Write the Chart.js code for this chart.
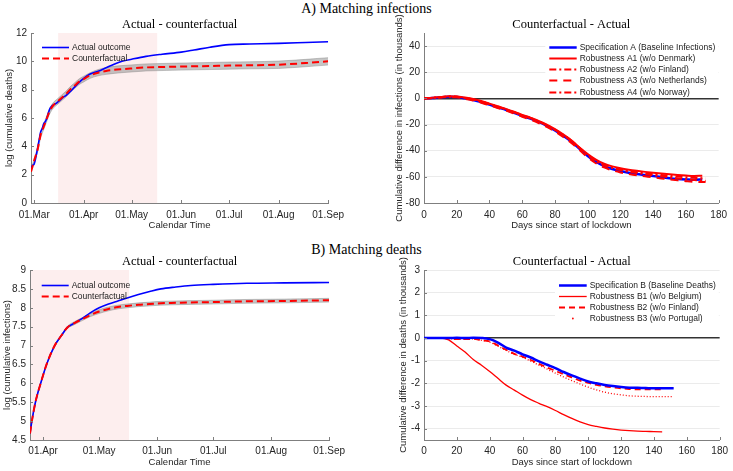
<!DOCTYPE html>
<html>
<head>
<meta charset="utf-8">
<script src="https://cdn.jsdelivr.net/npm/chart.js@4.4.1/dist/chart.umd.min.js"></script>
<style>
  body { margin: 0; background: #fff; width: 733px; height: 471px; position: relative; overflow: hidden; }
  .hd { position: absolute; left: 0; width: 733px; text-align: center; font-family: "Liberation Serif", serif; font-size: 14px; line-height: 16px; color: #000; }
  canvas { position: absolute; }
</style>
</head>
<body>
<div class="hd" style="top:1px">A) Matching infections</div>
<div class="hd" style="top:242px">B) Matching deaths</div>
<canvas id="c1" style="left:0;top:14px" width="350" height="221"></canvas>
<canvas id="c2" style="left:360px;top:14px" width="373" height="221"></canvas>
<canvas id="c3" style="left:0;top:251px" width="350" height="220"></canvas>
<canvas id="c4" style="left:360px;top:251px" width="373" height="220"></canvas>
<script>
// calendar axes: days since 01.Mar
const dateTicks1 = [0, 31, 61, 92, 122, 153, 184];
const dateLabels1 = ['01.Mar', '01.Apr', '01.May', '01.Jun', '01.Jul', '01.Aug', '01.Sep'];
const dateTicks3 = [31, 61, 92, 122, 153, 184];
const dateLabels3 = ['01.Apr', '01.May', '01.Jun', '01.Jul', '01.Aug', '01.Sep'];
const dayTicks = [0, 20, 40, 60, 80, 100, 120, 140, 160, 180];
const yTicks1 = [0, 2, 4, 6, 8, 10, 12];
const yTicks2 = [-80, -60, -40, -20, 0, 20, 40];
const yTicks3 = [4.5, 5, 5.5, 6, 6.5, 7, 7.5, 8, 8.5, 9];
const yTicks4 = [-4, -3, -2, -1, 0, 1, 2, 3];

// lockdown shading (days since 01.Mar)
const shadeFrom1 = 15, shadeTo1 = 77;
const shadeFrom3 = 24, shadeTo3 = 77;

// A) matching infections, left: log cumulative deaths
const days1 = [-2, -1, 0, 1, 2, 3, 4, 5, 6, 7, 8, 9, 10, 11, 12, 14, 16, 18, 20, 22, 25, 28, 31, 35, 40, 45, 50, 55, 61, 70, 80, 92, 100, 110, 122, 135, 153, 170, 184];
const actual1 = [2.5, 2.65, 2.75, 3.2, 3.8, 4.4, 5.0, 5.25, 5.6, 5.75, 6.0, 6.4, 6.7, 6.85, 6.92, 7.05, 7.25, 7.45, 7.6, 7.8, 8.15, 8.5, 8.8, 9.1, 9.3, 9.55, 9.8, 10.0, 10.15, 10.35, 10.5, 10.65, 10.8, 11.0, 11.18, 11.22, 11.27, 11.33, 11.38];
const cf1 = [2.2, 2.6, 3.0, 3.35, 3.7, 4.25, 4.8, 5.1, 5.4, 5.7, 6.0, 6.3, 6.55, 6.75, 6.9, 7.1, 7.3, 7.5, 7.7, 7.95, 8.25, 8.55, 8.75, 9.0, 9.2, 9.32, 9.4, 9.45, 9.5, 9.57, 9.6, 9.63, 9.65, 9.67, 9.7, 9.72, 9.76, 9.88, 10.0];
const cfLo1 = [2.1, 2.5, 2.85, 3.2, 3.55, 4.05, 4.6, 4.9, 5.2, 5.5, 5.8, 6.1, 6.35, 6.55, 6.7, 6.9, 7.1, 7.3, 7.5, 7.75, 8.05, 8.35, 8.55, 8.8, 8.98, 9.08, 9.15, 9.2, 9.25, 9.32, 9.35, 9.38, 9.4, 9.42, 9.45, 9.47, 9.5, 9.62, 9.74];
const cfHi1 = [2.35, 2.75, 3.15, 3.5, 3.85, 4.45, 5.0, 5.3, 5.6, 5.9, 6.2, 6.5, 6.75, 6.95, 7.1, 7.3, 7.5, 7.7, 7.9, 8.15, 8.45, 8.75, 8.95, 9.2, 9.42, 9.56, 9.65, 9.7, 9.75, 9.82, 9.85, 9.88, 9.9, 9.92, 9.95, 9.97, 10.02, 10.14, 10.26];

// A) right: counterfactual - actual infections (thousands)
const days2 = [0, 5, 10, 15, 20, 25, 30, 35, 40, 45, 50, 55, 60, 65, 70, 75, 80, 85, 90, 95, 100, 105, 110, 115, 120, 125, 130, 135, 140, 145, 150, 155, 160, 165, 170, 172];
const specA = [0, 0.3, 0.8, 1.2, 1.0, 0, -1.2, -2.8, -4.8, -6.8, -8.7, -11, -13.4, -15.5, -18, -21, -24.5, -28.5, -33, -38.5, -44, -48.5, -51.8, -54, -55.6, -56.8, -57.8, -58.6, -59.4, -60.2, -61, -61.6, -62, -62.3, -62];
const robA1 = [0, 0.4, 1.0, 1.6, 1.5, 0.6, -0.5, -2.0, -4.0, -6.0, -8.0, -10.2, -12.6, -14.8, -17.2, -20, -23.5, -27.5, -32, -37.5, -42.5, -46.8, -50, -52, -53.4, -54.5, -55.4, -56.2, -56.9, -57.5, -58.1, -58.6, -59, -59.3, -59.2];
const robA2 = [0, 0.3, 0.9, 1.4, 1.2, 0.3, -0.9, -2.5, -4.4, -6.4, -8.4, -10.6, -13, -15.1, -17.6, -20.6, -24, -28, -32.6, -38, -43.4, -48, -51.2, -53.2, -54.8, -56, -57, -57.9, -58.8, -59.6, -60.4, -61.2, -61.8, -62.4, -62.8, -63];
const robA3 = [0, 0.2, 0.7, 1.1, 0.8, -0.3, -1.6, -3.3, -5.3, -7.3, -9.3, -11.6, -14, -16.2, -18.8, -21.8, -25.3, -29.5, -34, -39.5, -45, -49.6, -52.8, -55, -56.6, -57.8, -58.8, -59.6, -60.4, -61.2, -62, -62.7, -63.3, -63.8, -64, -64];
const robA4 = [0, 0.4, 0.9, 1.4, 1.3, 0.4, -0.8, -2.3, -4.3, -6.3, -8.3, -10.5, -12.9, -15, -17.5, -20.4, -23.8, -27.8, -32.4, -37.8, -43, -47.5, -50.7, -52.7, -54.2, -55.3, -56.3, -57.1, -57.8, -58.5, -59.2, -59.8, -60.3, -60.7, -61, -61];

// B) matching deaths, left: log cumulative infections
const days3 = [24, 25, 27, 30, 33, 37, 41, 44, 48, 52, 56, 61, 66, 71, 76, 82, 88, 94, 102, 110, 122, 140, 160, 184];
const actual3 = [4.67, 5.0, 5.52, 6.05, 6.52, 6.98, 7.28, 7.48, 7.6, 7.72, 7.86, 8.0, 8.1, 8.18, 8.26, 8.35, 8.43, 8.5, 8.55, 8.59, 8.62, 8.65, 8.66, 8.67];
const cf3 = [4.67, 5.0, 5.52, 6.05, 6.52, 6.98, 7.28, 7.48, 7.6, 7.7, 7.8, 7.9, 7.97, 8.02, 8.05, 8.08, 8.1, 8.12, 8.13, 8.14, 8.15, 8.17, 8.18, 8.2];
const cfLo3 = [4.66, 4.99, 5.51, 6.04, 6.51, 6.96, 7.26, 7.45, 7.56, 7.66, 7.76, 7.85, 7.92, 7.97, 8.0, 8.03, 8.05, 8.07, 8.08, 8.09, 8.1, 8.12, 8.13, 8.15];
const cfHi3 = [4.68, 5.01, 5.53, 6.06, 6.53, 7.0, 7.3, 7.51, 7.64, 7.74, 7.84, 7.95, 8.02, 8.07, 8.1, 8.13, 8.15, 8.17, 8.18, 8.19, 8.2, 8.22, 8.23, 8.25];

// B) right: counterfactual - actual deaths (thousands)
const days4 = [0, 5, 10, 15, 20, 25, 30, 35, 40, 45, 50, 55, 60, 65, 70, 75, 80, 85, 90, 95, 100, 105, 110, 115, 120, 125, 130, 135, 140, 145, 150, 152];
const specB = [0, 0, 0, 0, 0.01, 0, 0.01, 0, -0.05, -0.2, -0.42, -0.56, -0.72, -0.86, -1.03, -1.18, -1.33, -1.5, -1.65, -1.79, -1.92, -2.0, -2.07, -2.12, -2.16, -2.19, -2.2, -2.21, -2.22, -2.22, -2.22, -2.22];
const robB1 = [0, 0, 0, -0.08, -0.35, -0.62, -0.95, -1.2, -1.48, -1.78, -2.08, -2.3, -2.52, -2.72, -2.88, -3.03, -3.2, -3.38, -3.55, -3.7, -3.82, -3.9, -3.97, -4.02, -4.06, -4.09, -4.11, -4.12, -4.13, -4.14];
const robB2 = [0, 0, 0, -0.02, -0.05, -0.05, -0.04, -0.1, -0.15, -0.33, -0.52, -0.7, -0.82, -0.97, -1.14, -1.3, -1.45, -1.6, -1.74, -1.88, -1.98, -2.07, -2.13, -2.18, -2.22, -2.25, -2.27, -2.27, -2.27, -2.27];
const robB3 = [0, 0, 0, -0.02, -0.05, -0.05, -0.04, -0.1, -0.18, -0.36, -0.55, -0.72, -0.85, -1.02, -1.2, -1.37, -1.55, -1.72, -1.88, -2.03, -2.17, -2.29, -2.39, -2.46, -2.51, -2.55, -2.57, -2.58, -2.59, -2.59, -2.59, -2.59];

const BLUE = '#0000ff';
const RED = '#ff0000';
const AXIS = '#7f7f7f';

Chart.defaults.font.family = '"Liberation Sans", Arial, sans-serif';
Chart.defaults.color = '#262626';

const pts = (xs, ys) => ys.map((y, i) => ({x: xs[i], y: y}));

// pink lockdown period
const shade = {
  id: 'shade',
  beforeDraw(chart, args, o) {
    if (o.from == null) return;
    const {ctx, chartArea: a, scales: {x}} = chart;
    const x0 = Math.max(x.getPixelForValue(o.from), a.left);
    const x1 = x.getPixelForValue(o.to);
    ctx.save();
    ctx.fillStyle = '#fdeeee';
    ctx.fillRect(x0, a.top, x1 - x0, a.bottom - a.top);
    ctx.restore();
  }
};

// matlab style inward ticks
const innerTicks = {
  id: 'innerTicks',
  afterDraw(chart) {
    const {ctx, chartArea: a, scales: {x, y}} = chart;
    ctx.save();
    ctx.strokeStyle = AXIS;
    ctx.lineWidth = 1;
    ctx.beginPath();
    x.ticks.forEach(t => {
      const px = Math.round(x.getPixelForValue(t.value)) + 0.5;
      ctx.moveTo(px, a.bottom); ctx.lineTo(px, a.bottom - 3);
    });
    y.ticks.forEach(t => {
      const py = Math.round(y.getPixelForValue(t.value)) + 0.5;
      ctx.moveTo(a.left, py); ctx.lineTo(a.left + 3, py);
    });
    ctx.stroke();
    ctx.restore();
  }
};

// legend drawn inside the axes
const boxLegend = {
  id: 'boxLegend',
  afterDatasetsDraw(chart, args, o) {
    if (o.x == null) return;
    const {ctx, chartArea: a} = chart;
    const items = chart.data.datasets.filter(d => d.label);
    const x0 = a.left + o.x, y0 = a.top + o.y;
    ctx.save();
    ctx.font = '8.5px "Liberation Sans", Arial, sans-serif';
    if (o.bg) {
      const w = Math.max(...items.map(d => ctx.measureText(d.label).width));
      ctx.fillStyle = '#fff';
      ctx.fillRect(x0 - 4, y0 - 6, o.len + 3 + w + 7, (items.length - 1) * o.step + 12);
    }
    items.forEach((d, i) => {
      const y = Math.round(y0 + i * o.step) + 0.5;
      ctx.strokeStyle = d.borderColor;
      ctx.fillStyle = d.borderColor;
      if (d.legendDot) {
        ctx.beginPath();
        ctx.arc(x0 + o.len / 2, y, 0.9, 0, Math.PI * 2);
        ctx.fill();
      } else {
        ctx.lineWidth = d.borderWidth;
        ctx.setLineDash(d.borderDash || []);
        ctx.beginPath();
        ctx.moveTo(x0, y); ctx.lineTo(x0 + o.len, y);
        ctx.stroke();
      }
      ctx.setLineDash([]);
      ctx.fillStyle = '#1a1a1a';
      ctx.textBaseline = 'middle';
      ctx.fillText(d.label, x0 + o.len + 3, y);
    });
    ctx.restore();
  }
};

function xAxis(min, max, ticks, labels, title, h, tickPad, titlePad) {
  return {
    type: 'linear', min: min, max: max,
    afterBuildTicks: s => { s.ticks = ticks.map(v => ({value: v})); },
    afterFit: s => { s.height = h; },
    grid: {display: false, drawTicks: false},
    border: {color: AXIS, width: 1},
    ticks: {
      font: {size: 10}, padding: tickPad, maxRotation: 0, autoSkip: false,
      callback: v => labels ? labels[ticks.indexOf(v)] : String(v)
    },
    title: {display: true, text: title, font: {size: 9.5}, padding: {top: 0, bottom: titlePad}}
  };
}

function yAxis(min, max, ticks, title, w, titlePad, withGrid) {
  return {
    min: min, max: max,
    afterBuildTicks: s => { s.ticks = ticks.map(v => ({value: v})); },
    afterFit: s => { s.width = w; },
    grid: withGrid ? {
      drawTicks: false,
      color: c => (c.tick && c.tick.value === 0) ? '#333333' : '#ebebeb',
      lineWidth: c => (c.tick && c.tick.value === 0) ? 1.6 : 1
    } : {display: false, drawTicks: false},
    border: {color: AXIS, width: 1},
    ticks: {font: {size: 10}, padding: 4, callback: v => String(v)},
    title: {display: true, text: title, font: {size: 9.5}, padding: {top: titlePad, bottom: 0}}
  };
}

function panelTitle(text, top, bottom) {
  return {
    display: true, text: text, fullSize: false, color: '#000',
    font: {family: '"Liberation Serif", serif', size: 12.5, weight: 'normal', lineHeight: 1.2},
    padding: {top: top, bottom: bottom}
  };
}

function makeChart(id, datasets, scales, plugins) {
  return new Chart(document.getElementById(id), {
    type: 'line',
    data: {datasets: datasets},
    options: {
      responsive: false,
      animation: false,
      layout: {padding: {left: 0, top: 0, right: plugins.padRight, bottom: 0}},
      elements: {point: {radius: 0}, line: {cubicInterpolationMode: 'monotone'}},
      scales: scales,
      plugins: {
        legend: {display: false},
        tooltip: {enabled: false},
        title: plugins.title,
        shade: plugins.shade || {},
        boxLegend: plugins.legend
      }
    },
    plugins: [shade, innerTicks, boxLegend]
  });
}

const band = (xs, ys, fill) => ({
  data: pts(xs, ys), fill: fill, borderWidth: 0.8,
  borderColor: 'rgba(110,110,110,0.45)', backgroundColor: 'rgba(140,140,140,0.5)', order: 5
});

// panel 1
makeChart('c1', [
  {label: 'Actual outcome', data: pts(days1, actual1), borderColor: BLUE, borderWidth: 1.6, order: 2},
  {label: 'Counterfactual', data: pts(days1, cf1), borderColor: RED, borderWidth: 2, borderDash: [7, 4], order: 1},
  band(days1, cfHi1, '+1'),
  band(days1, cfLo1, false)
], {
  x: xAxis(-2, 184, dateTicks1, dateLabels1, 'Calendar Time', 32, 6, 4.3),
  y: yAxis(0, 12, yTicks1, 'log (cumulative deaths)', 31, 3.3, false)
}, {
  padRight: 20,
  title: panelTitle('Actual - counterfactual', 3, 1),
  shade: {from: shadeFrom1, to: shadeTo1},
  legend: {x: 11, y: 13.7, step: 11.6, len: 27}
});

// panel 2
makeChart('c2', [
  {label: 'Specification A (Baseline Infections)', data: pts(days2, specA), borderColor: BLUE, borderWidth: 2.5, order: 9},
  {label: 'Robustness A1 (w/o Denmark)', data: pts(days2, robA1), borderColor: RED, borderWidth: 2, order: 4},
  {label: 'Robustness A2 (w/o Finland)', data: pts(days2, robA2), borderColor: RED, borderWidth: 2, borderDash: [7, 3, 2, 3], order: 3},
  {label: 'Robustness A3 (w/o Netherlands)', data: pts(days2, robA3), borderColor: RED, borderWidth: 2, borderDash: [8, 6], order: 2},
  {label: 'Robustness A4 (w/o Norway)', data: pts(days2, robA4), borderColor: RED, borderWidth: 2, borderDash: [7, 3, 2, 3], order: 1}
], {
  x: xAxis(0, 180, dayTicks, null, 'Days since start of lockdown', 32, 6, 4.3),
  y: yAxis(-80, 50, yTicks2, 'Cumulative difference in infections (in thousands)', 64, 33.6, true)
}, {
  padRight: 10,
  title: panelTitle('Counterfactual - Actual', 3, 1),
  legend: {x: 125.3, y: 13.7, step: 11.25, len: 27.4, bg: true}
});

// panel 3
makeChart('c3', [
  {label: 'Actual outcome', data: pts(days3, actual3), borderColor: BLUE, borderWidth: 1.6, order: 2},
  {label: 'Counterfactual', data: pts(days3, cf3), borderColor: RED, borderWidth: 2, borderDash: [7, 4], order: 1},
  band(days3, cfHi3, '+1'),
  band(days3, cfLo3, false)
], {
  x: xAxis(24, 184, dateTicks3, dateLabels3, 'Calendar Time', 31, 5, 3.3),
  y: yAxis(4.5, 9, yTicks3, 'log (cumulative infections)', 30, 1.7, false)
}, {
  padRight: 20,
  title: panelTitle('Actual - counterfactual', 3.2, 0.8),
  shade: {from: shadeFrom3, to: shadeTo3},
  legend: {x: 11.7, y: 15, step: 11, len: 27}
});

// panel 4
makeChart('c4', [
  {label: 'Specification B (Baseline Deaths)', data: pts(days4, specB), borderColor: BLUE, borderWidth: 2.5, order: 0},
  {label: 'Robustness B1 (w/o Belgium)', data: pts(days4, robB1), borderColor: RED, borderWidth: 1.3, order: 3},
  {label: 'Robustness B2 (w/o Finland)', data: pts(days4, robB2), borderColor: RED, borderWidth: 1.8, borderDash: [6, 4], order: 1},
  {label: 'Robustness B3 (w/o Portugal)', data: pts(days4, robB3), borderColor: RED, borderWidth: 1.3, borderDash: [1, 2], legendDot: true, order: 2}
], {
  x: xAxis(0, 180, dayTicks, null, 'Days since start of lockdown', 31, 5, 3.3),
  y: yAxis(-4.5, 3, yTicks4, 'Cumulative difference in deaths (in thousands)', 64, 37.6, true)
}, {
  padRight: 10,
  title: panelTitle('Counterfactual - Actual', 3.2, 0.8),
  legend: {x: 135, y: 15, step: 10.9, len: 27.7, bg: true}
});
</script>
</body>
</html>
